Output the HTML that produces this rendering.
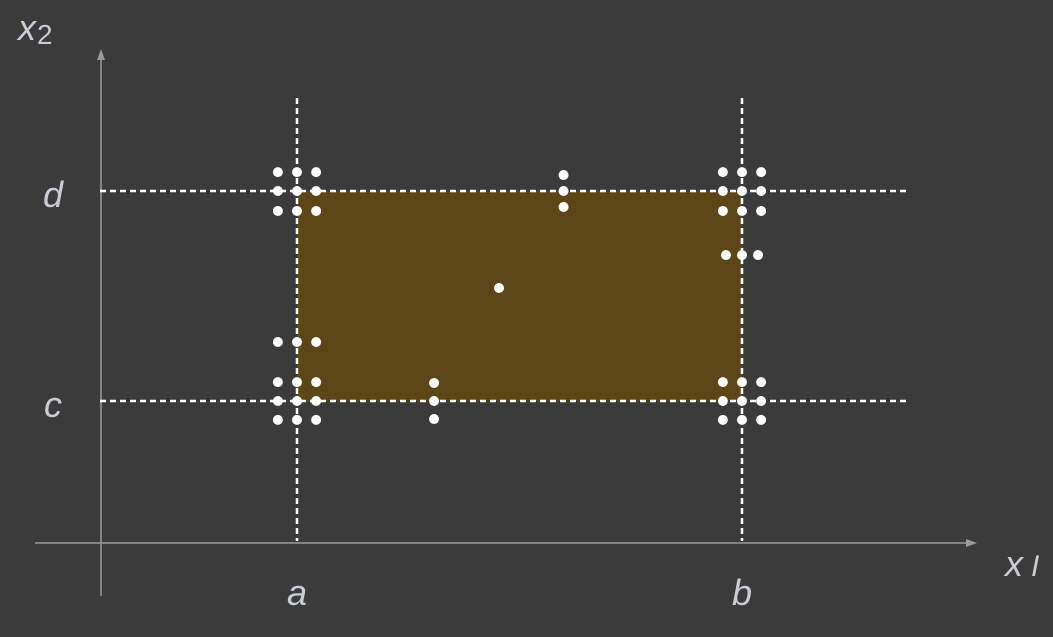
<!DOCTYPE html>
<html><head><meta charset="utf-8"><style>
html,body{margin:0;padding:0;background:#3b3b3c;}
svg{display:block}
text{font-family:"Liberation Sans","DejaVu Sans",sans-serif;font-style:italic;fill:#c9ccd3;}
</style></head><body>
<svg id="chart" width="1053" height="637">
<rect width="1053" height="637" fill="#3b3b3c"/>
<g id="g"></g>
</svg>
<script>
// data coordinates: a=0, b=10 on x1 ; c=0, d=10 on x2
const rectX = [0, 10];
const rectY = [0, 10];
const xs = [-0.43,0,0.43,-0.43,0,0.43,-0.43,0,0.43,
            -0.43,0,0.43,-0.43,0,0.43,-0.43,0,0.43,-0.43,0,0.43,
            9.57,10,10.43,9.57,10,10.43,9.57,10,10.43,
            9.57,10,10.43,9.57,10,10.43,9.57,10,10.43,
            9.64,10,10.36, 5.99,5.99,5.99, 4.54, 3.08,3.08,3.08];
const ys = [10.9,10.9,10.9,10,10,10,9.05,9.05,9.05,
            2.81,2.81,2.81,0.9,0.9,0.9,0,0,0,-0.9,-0.9,-0.9,
            10.9,10.9,10.9,10,10,10,9.05,9.05,9.05,
            0.9,0.9,0.9,0,0,0,-0.9,-0.9,-0.9,
            6.95,6.95,6.95, 10.76,10,9.24, 5.38, 0.86,0,-0.86];
const tickLabels = ["a","b"];
const yTickLabels = ["c","d"];
function X(v){return 297 + v*44.5;}
function Y(v){return 401 - v*21;}
const NS="http://www.w3.org/2000/svg";
const g=document.getElementById('g');
function mk(t,a){const e=document.createElementNS(NS,t);for(const k in a)e.setAttribute(k,a[k]);g.appendChild(e);return e;}
let r=mk('rect',{x:X(rectX[0]),y:Y(rectY[1]),width:X(rectX[1])-X(rectX[0]),height:Y(rectY[0])-Y(rectY[1]),fill:'#5c4516'});


let ax=mk('line',{x1:35,y1:543,x2:970,y2:543,stroke:'#9a9a9a','stroke-width':1.5});


let ah=mk('polygon',{points:'977,543 966,539 966,547',fill:'#9a9a9a'});


let ay=mk('line',{x1:101,y1:596,x2:101,y2:56,stroke:'#9a9a9a','stroke-width':1.5});


let ayh=mk('polygon',{points:'101,49 97,60 105,60',fill:'#9a9a9a'});


rectX.forEach((v,i)=>{let l=mk('line',{x1:X(v),y1:98,x2:X(v),y2:541,stroke:'#fff','stroke-width':2.5,'stroke-dasharray':'6 4'});

});
rectY.forEach((v,i)=>{let l=mk('line',{x1:100,y1:Y(v),x2:906,y2:Y(v),stroke:'#fff','stroke-width':2.5,'stroke-dasharray':'6 4'});

});
xs.forEach((v,i)=>{let c=mk('circle',{cx:X(v),cy:Y(ys[i]),r:5,fill:'#fff'});

});
rectX.forEach((v,i)=>{let t=mk('text',{x:X(v),y:605,'font-size':36,'text-anchor':'middle'});t.textContent=tickLabels[i];

});
rectY.forEach((v,i)=>{let t=mk('text',{x:53,y:Y(v)+16,'font-size':36,'text-anchor':'middle'});t.textContent=yTickLabels[i];

});
let t1=mk('text',{x:18,y:40,'font-size':36});t1.innerHTML='x<tspan font-style="normal" font-size="28" dx="1" dy="4">2</tspan>';


let t2=mk('text',{x:1005,y:576,'font-size':36});t2.innerHTML='x<tspan dx="8" font-size="30">I</tspan>';


</script>
</body></html>
